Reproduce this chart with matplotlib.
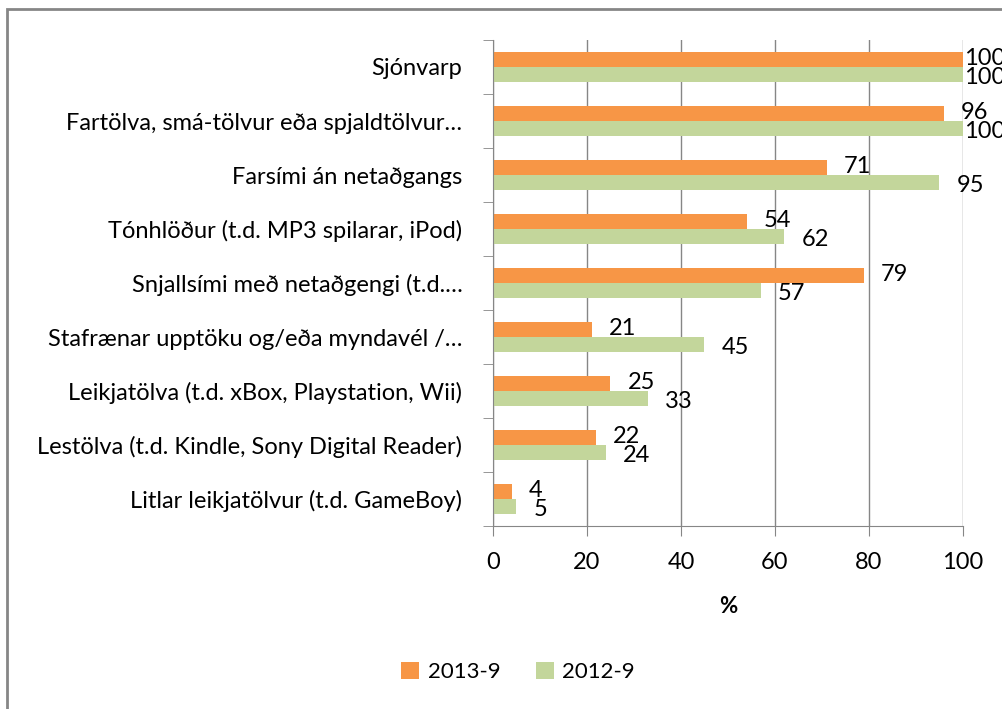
import matplotlib.pyplot as plt
import numpy as np
from matplotlib.patches import Rectangle

plt.rcParams['font.family'] = ['Lato', 'DejaVu Sans']

# Gögn
categories = [
    'Sjónvarp',
    'Fartölva, smá-tölvur eða spjaldtölvur…',
    'Farsími án netaðgangs',
    'Tónhlöður (t.d. MP3 spilarar, iPod)',
    'Snjallsími með netaðgengi (t.d.…',
    'Stafrænar upptöku og/eða myndavél /…',
    'Leikjatölva (t.d. xBox, Playstation, Wii)',
    'Lestölva (t.d. Kindle, Sony Digital Reader)',
    'Litlar leikjatölvur (t.d. GameBoy)',
]
vals_2013 = [100, 96, 71, 54, 79, 21, 25, 22, 4]
vals_2012 = [100, 100, 95, 62, 57, 45, 33, 24, 5]
series_names = ['2013-9', '2012-9']
xticks = [0, 20, 40, 60, 80, 100]

orange = '#F79646'
green = '#C3D69B'
grey = '#868686'
fs = 17

fig = plt.figure(figsize=(10.02, 7.09), dpi=100)
ax = fig.add_axes([0.492, 0.258, 0.469, 0.6856])

n = len(categories)
y = np.arange(n)
h = 0.28
b1 = ax.barh(y - h / 2, vals_2013, height=h, color=orange, label=series_names[0])
b2 = ax.barh(y + h / 2, vals_2012, height=h, color=green, label=series_names[1])

# merkingar: Excel heldur þeim inni í teiknisvæðinu
for yi, v in zip(y, vals_2013):
    ax.text(min(v + 3.6, 100.2), yi - h / 2 - 0.02, str(v), va='center', ha='left', fontsize=fs)
for yi, v in zip(y, vals_2012):
    ax.text(min(v + 3.6, 100.2), yi + h / 2 + 0.06, str(v), va='center', ha='left', fontsize=fs)

ax.set_xlim(0, 100)
ax.set_ylim(n - 0.5, -0.5)
ax.set_xticks(xticks)
ax.set_xticklabels([str(t) for t in xticks], fontsize=fs)
ax.set_yticks(y)
ax.set_yticklabels(categories, fontsize=fs)
ax.set_yticks(np.arange(n + 1) - 0.5, minor=True)
ax.tick_params(axis='y', which='major', length=0, pad=22)
ax.tick_params(axis='y', which='minor', length=7, color=grey, direction='out')
ax.tick_params(axis='x', length=7, color=grey, pad=12)
ax.grid(axis='x', color=grey, linewidth=1)
ax.set_axisbelow(True)
for s in ['top', 'right']:
    ax.spines[s].set_visible(False)
for s in ['left', 'bottom']:
    ax.spines[s].set_color(grey)
ax.set_xlabel('%', fontsize=fs - 1, fontweight='bold', labelpad=16)

fig.legend(handles=[b1, b2], loc='center', bbox_to_anchor=(0.517, 0.052), ncol=2,
           frameon=False, fontsize=fs - 1, handlelength=0.8, handleheight=0.8,
           columnspacing=1.6, handletextpad=0.4)

fig.patches.append(Rectangle((7 / 1002, -0.1), 1.2, 1.1 - 9 / 709, transform=fig.transFigure,
                             fill=False, edgecolor=grey, linewidth=2))

fig.savefig('out.png', dpi=100)
